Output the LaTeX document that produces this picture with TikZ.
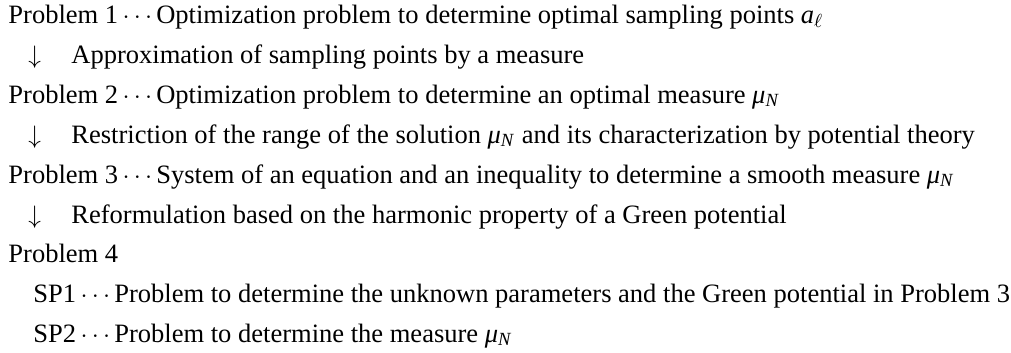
\documentclass[tikz,border=0pt]{standalone}
\usepackage{amsmath,amssymb}
\usepackage{fontspec}
\setmainfont{Liberation Serif}
\usepackage{tikz}
\usetikzlibrary{positioning}
\newcommand{\muN}{\textit{μ}\textsubscript{\textit{N}}}
\newcommand{\dotsep}{\,$\cdots$}
\tikzset{
  prob/.style={anchor=base west, inner sep=0pt, font=\fontsize{12.6}{14}\selectfont},
  stepdown/.style={anchor=base west, inner sep=0pt, font=\fontsize{12.6}{14}\selectfont}
}
\begin{document}
\begin{tikzpicture}[x=0.475pt, y=-0.475pt]
\useasboundingbox (0,0) rectangle (1011,352);
\node[prob] (p1) at (8,23) {Problem 1\dotsep Optimization problem to determine optimal sampling points \textit{a}$_\ell$};
\node[stepdown] (d1) at (28,63) {$\downarrow$};
\node[prob] (s1) at (71,63) {Approximation of sampling points by a measure};
\node[prob] (p2) at (8,103) {Problem 2\dotsep Optimization problem to determine an optimal measure \muN};
\node[stepdown] (d2) at (28,143) {$\downarrow$};
\node[prob] (s2) at (71,143) {Restriction of the range of the solution \muN\ and its characterization by potential theory};
\node[prob] (p3) at (8,183) {Problem 3\dotsep System of an equation and an inequality to determine a smooth measure \muN};
\node[stepdown] (d3) at (28,223) {$\downarrow$};
\node[prob] (s3) at (71,223) {Reformulation based on the harmonic property of a Green potential};
\node[prob] (p4) at (8,262) {Problem 4};
\node[prob] (sp1) at (33,302) {SP1\dotsep Problem to determine the unknown parameters and the Green potential in Problem 3};
\node[prob] (sp2) at (33,342) {SP2\dotsep Problem to determine the measure \muN};
\end{tikzpicture}
\end{document}
